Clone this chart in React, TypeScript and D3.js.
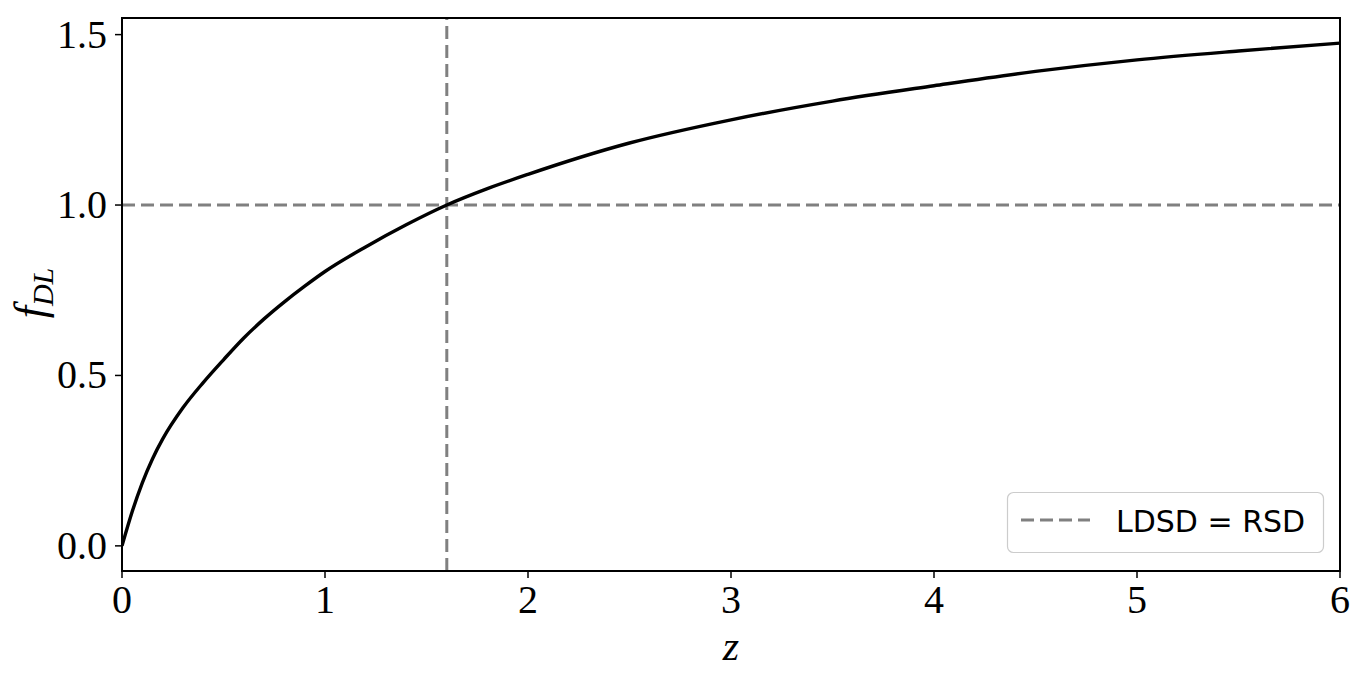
import React from "react";
import * as d3 from "d3";

const zValues = [0, 0.05, 0.1, 0.15, 0.2, 0.3, 0.4, 0.5, 0.6, 0.7, 0.8, 0.9, 1.0, 1.2, 1.4, 1.6, 1.8, 2.0, 2.5, 3.0, 3.5, 4.0, 4.5, 5.0, 5.5, 6.0];
const fValues = [0, 0.10, 0.185, 0.255, 0.313, 0.405, 0.479, 0.546, 0.61, 0.666, 0.716, 0.762, 0.805, 0.877, 0.942, 1.0, 1.048, 1.09, 1.182, 1.25, 1.305, 1.35, 1.392, 1.426, 1.452, 1.475];
const xTicks = [0, 1, 2, 3, 4, 5, 6];
const yTicks = [0.0, 0.5, 1.0, 1.5];
const zCross = 1.6;
const fRef = 1.0;
const legendLabel = "LDSD = RSD";

const W = 1366;
const H = 685;
const left = 122;
const right = 1340;
const top = 18;
const bottom = 571;

export default function App() {
  const x = d3.scaleLinear().domain([0, 6]).range([left, right]);
  const y = d3.scaleLinear().domain([-0.07375, 1.54875]).range([bottom, top]);
  const pts: [number, number][] = zValues.map((z, i) => [z, fValues[i]]);
  const line = d3
    .line<[number, number]>()
    .x((d) => x(d[0]))
    .y((d) => y(d[1]))
    .curve(d3.curveMonotoneX);
  const serif = "Liberation Serif, serif";
  const gray = "#808080";
  const dash = "13 6";
  return (
    <div style={{ position: "fixed", left: 0, top: 0, width: W, height: H, background: "#fff" }}>
      <svg width={W} height={H} style={{ display: "block" }}>
        <rect x={0} y={0} width={W} height={H} fill="#fff" />
        <defs>
          <clipPath id="plotclip">
            <rect x={left} y={top} width={right - left} height={bottom - top} />
          </clipPath>
        </defs>
        <g clipPath="url(#plotclip)">
          <line x1={x(0)} x2={x(6)} y1={y(fRef)} y2={y(fRef)} stroke={gray} strokeWidth={3} strokeDasharray={dash} />
          <line x1={x(zCross)} x2={x(zCross)} y1={bottom} y2={top} stroke={gray} strokeWidth={3} strokeDasharray={dash} />
          <path d={line(pts) || ""} fill="none" stroke="#000" strokeWidth={3.4} strokeLinejoin="round" />
        </g>
        <rect x={left} y={top} width={right - left} height={bottom - top} fill="none" stroke="#000" strokeWidth={2} />
        {xTicks.map((t) => (
          <g key={"x" + t}>
            <line x1={x(t)} x2={x(t)} y1={bottom} y2={bottom + 7} stroke="#000" strokeWidth={1.5} />
            <text x={x(t)} y={613} textAnchor="middle" fontFamily={serif} fontSize={40}>
              {t}
            </text>
          </g>
        ))}
        {yTicks.map((t) => (
          <g key={"y" + t}>
            <line x1={left - 7} x2={left} y1={y(t)} y2={y(t)} stroke="#000" strokeWidth={1.5} />
            <text x={107} y={y(t) + 13} textAnchor="end" fontFamily={serif} fontSize={40}>
              {t.toFixed(1)}
            </text>
          </g>
        ))}
        <text x={731} y={660} textAnchor="middle" fontFamily={serif} fontStyle="italic" fontSize={42}>
          z
        </text>
        <text transform="translate(45,293) rotate(-90)" textAnchor="middle" fontFamily={serif} fontStyle="italic" fontSize={44}>
          f
          <tspan fontSize={30} dy={8}>DL</tspan>
        </text>
        <rect x={1007.5} y={492.5} width={316} height={60} rx={6} ry={6} fill="#fff" fillOpacity={0.8} stroke="#cccccc" strokeWidth={1.2} />
        <line x1={1021} x2={1090} y1={520} y2={520} stroke={gray} strokeWidth={3} strokeDasharray={dash} />
        <text x={1116} y={532} fontFamily="DejaVu Sans, sans-serif" fontSize={30}>
          {legendLabel}
        </text>
      </svg>
    </div>
  );
}
